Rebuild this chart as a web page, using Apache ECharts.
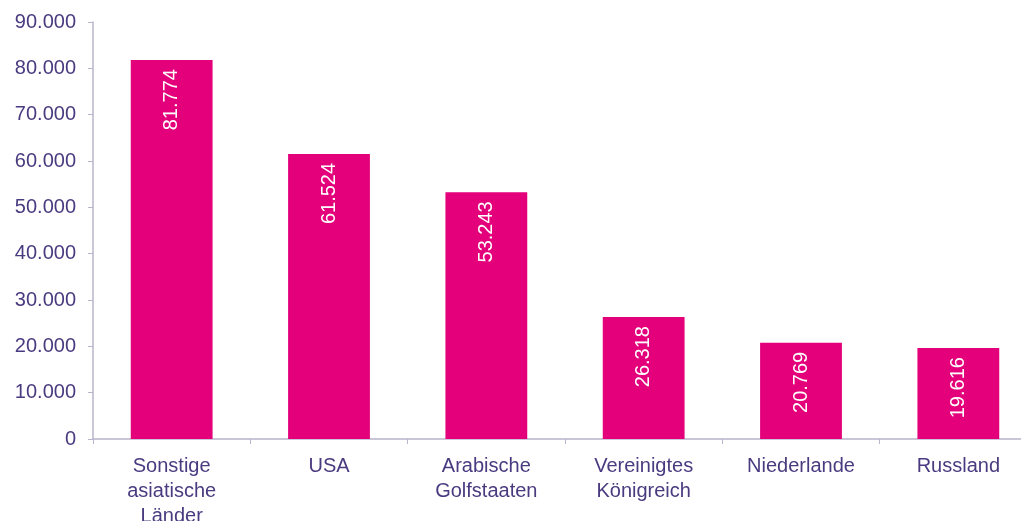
<!DOCTYPE html>
<html>
<head>
<meta charset="utf-8">
<script src="https://cdn.jsdelivr.net/npm/echarts@6/dist/echarts.min.js"></script>
<style>html,body{margin:0;padding:0;background:#fff}#c{width:1021px;height:521px}</style>
</head>
<body>
<div id="c"></div>
<script>
const categories = ['Sonstige\nasiatische\nLänder', 'USA', 'Arabische\nGolfstaaten', 'Vereinigtes\nKönigreich', 'Niederlande', 'Russland'];
const values = [81774, 61524, 53243, 26318, 20769, 19616];
const yMin = 0, yMax = 90000, yInterval = 10000;

function fmt(v) {
  return String(v).replace(/\B(?=(\d{3})+(?!\d))/g, '.');
}
const textColor = '#4a3b80';
const axisColor = '#b9b4cc';
const chart = echarts.init(document.getElementById('c'), null, {renderer: 'canvas'});
chart.setOption({
  animation: false,
  grid: {left: 93, width: 944, top: 22, height: 417, containLabel: false, outerBoundsMode: 'none'},
  xAxis: {
    type: 'category',
    data: categories,
    axisLine: {lineStyle: {color: axisColor, width: 1.5}},
    axisTick: {show: true, length: 5, lineStyle: {color: axisColor}},
    axisLabel: {color: textColor, fontSize: 20, fontFamily: 'Liberation Sans, Arial, sans-serif', lineHeight: 25, margin: 15, interval: 0}
  },
  yAxis: {
    type: 'value',
    min: yMin, max: yMax, interval: yInterval,
    splitLine: {show: false},
    axisLine: {show: true, lineStyle: {color: axisColor, width: 1.5}},
    axisTick: {show: true, length: 5, lineStyle: {color: axisColor}},
    axisLabel: {color: textColor, fontSize: 20, fontFamily: 'Liberation Sans, Arial, sans-serif', margin: 17, formatter: v => fmt(v)}
  },
  series: [{
    type: 'bar',
    data: values,
    barCategoryGap: '48%',
    itemStyle: {color: '#e3007a'},
    label: {
      show: true,
      position: 'insideTop',
      rotate: 90,
      align: 'right',
      verticalAlign: 'middle',
      distance: 9,
      color: '#ffffff',
      fontSize: 20,
      fontFamily: 'Liberation Sans, Arial, sans-serif',
      formatter: p => fmt(p.value)
    }
  }]
});
</script>
</body>
</html>
